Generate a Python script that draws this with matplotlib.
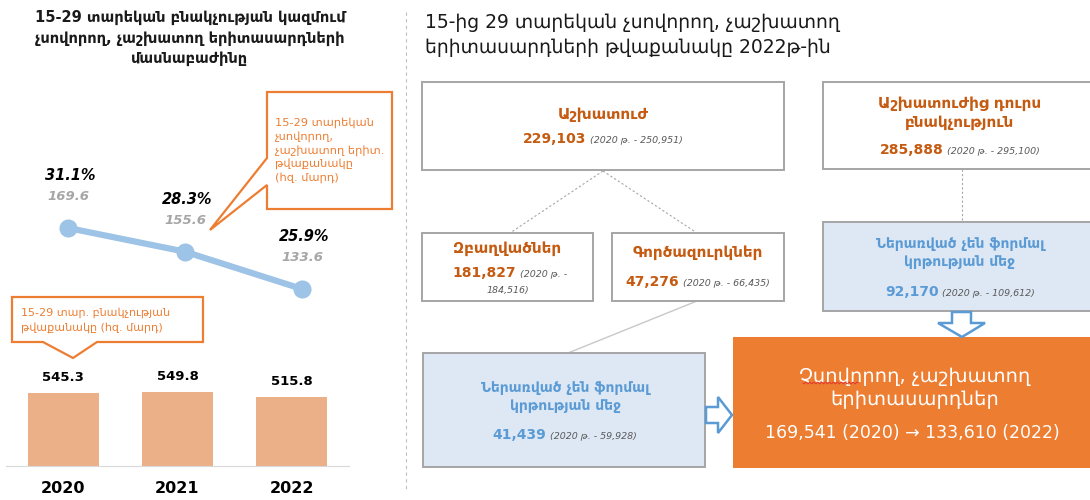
import matplotlib
matplotlib.use("Agg")
import matplotlib.pyplot as plt
from matplotlib.patches import Polygon, Rectangle
import numpy as np

plt.rcParams['font.family'] = ['DejaVu Sans']

# ---- data ----
years = ['2020', '2021', '2022']
population = [545.3, 549.8, 515.8]          # 15-29 population, thousand
neet_count = [169.6, 155.6, 133.6]          # NEET youth, thousand
neet_share = [31.1, 28.3, 25.9]             # NEET share, %

labour_force = (229103, 250951)             # (2022, 2020)
employed = (181827, 184516)
unemployed = (47276, 66435)
inactive = (285888, 295100)
unemp_no_edu = (41439, 59928)
inact_no_edu = (92170, 109612)
neet_total = (169541, 133610)               # (2020, 2022)

ORANGE = '#ed7d31'
ORANGE_TXT = '#c55a11'
BLUE = '#5b9bd5'
BLUE_FILL = '#dde8f4'
GREY_BORDER = '#a5a5a5'
GREY_TXT = '#595959'
W, H = 1090, 500

fig = plt.figure(figsize=(W / 100, H / 100), dpi=100)
ax = fig.add_axes([0, 0, 1, 1])
ax.set_xlim(0, W)
ax.set_ylim(H, 0)
ax.axis('off')


def px_axes(x0, y0, x1, y1):
    # axes placed by pixel box (top-left origin)
    a = fig.add_axes([x0 / W, (H - y1) / H, (x1 - x0) / W, (y1 - y0) / H])
    a.set_facecolor('none')
    return a


def box(x0, y0, x1, y1, fc='white', ec=GREY_BORDER, lw=1.4):
    ax.add_patch(Rectangle((x0, y0), x1 - x0, y1 - y0, facecolor=fc,
                           edgecolor=ec, lw=lw, zorder=2))


def pair(x, y, a, b, color, size_a=10, size_b=6.8, gap=4):
    r = fig.canvas.get_renderer()
    t1 = ax.text(0, y, a, fontsize=size_a, fontweight='bold', color=color,
                 ha='left', va='center', zorder=5)
    t2 = ax.text(0, y + 1, b, fontsize=size_b, style='italic', color=GREY_TXT,
                 ha='left', va='center', zorder=5)
    w1 = t1.get_window_extent(r).width
    w2 = t2.get_window_extent(r).width
    start = x - (w1 + gap + w2) / 2
    t1.set_x(start)
    t2.set_x(start + w1 + gap)


def fmt(v):
    return f"{v:,}"


# ---- left panel ----
ax.text(190, 38, "15-29 տարեկան բնակչության կազմում\nչսովորող, չաշխատող երիտասարդների\nմասնաբաժինը",
        ha='center', va='center', fontsize=10.5, fontweight='bold', linespacing=1.45, color='#1a1a1a')

ax.plot([406, 406], [12, 492], color='#bfbfbf', lw=0.8, ls=(0, (3, 3)))

# bars
bax = px_axes(6, 346, 349, 466)
xs = np.arange(len(years))
bax.bar(xs, population, width=0.62, color='#ebb088')
bax.set_xlim(-0.5, 2.5)
bax.set_ylim(0, 891.6)
for s in ['top', 'left', 'right']:
    bax.spines[s].set_visible(False)
bax.spines['bottom'].set_color('#d9d9d9')
bax.set_yticks([])
bax.set_xticks(xs)
bax.set_xticklabels(years, fontsize=11.5, fontweight='bold')
bax.tick_params(axis='x', length=0, pad=11)
for x, v in zip(xs, population):
    bax.annotate(f"{v}", (x, v), xytext=(0, 11), textcoords='offset points',
                 ha='center', va='center', fontsize=9.5, fontweight='bold')

# line
lax = px_axes(9.5, 170, 360.5, 300)
lax.plot(xs, neet_count, color='#9dc3e6', lw=4.5, marker='o', ms=12,
         markerfacecolor='#9dc3e6', markeredgecolor='#9dc3e6', solid_capstyle='round')
lax.set_xlim(-0.5, 2.5)
lax.set_ylim(127.1, 203.8)
lax.axis('off')
for x, v, p in zip(xs, neet_count, neet_share):
    lax.annotate(f"{p}%", (x, v), xytext=(1.5, 37.5), textcoords='offset points',
                 ha='center', va='center', fontsize=10.5, fontweight='bold', style='italic')
    lax.annotate(f"{v}", (x, v), xytext=(0, 22.5), textcoords='offset points',
                 ha='center', va='center', fontsize=9.5, fontweight='bold', style='italic',
                 color='#a6a6a6')

# callouts
c1 = [(267, 92), (392, 92), (392, 209), (267, 209), (267, 185), (210, 230), (267, 158)]
ax.add_patch(Polygon(c1, closed=True, facecolor='white', edgecolor=ORANGE, lw=1.6, zorder=3))
ax.text(275, 150, "15-29 տարեկան\nչսովորող,\nչաշխատող երիտ.\nթվաքանակը\n(հզ. մարդ)",
        ha='left', va='center', fontsize=8.2, color=ORANGE, linespacing=1.35, zorder=4)

c2 = [(12, 297), (203, 297), (203, 342), (97, 342), (73, 358), (43, 342), (12, 342)]
ax.add_patch(Polygon(c2, closed=True, facecolor='white', edgecolor=ORANGE, lw=1.6, zorder=3))
ax.text(21, 320, "15-29 տար. բնակչության\nթվաքանակը (հզ. մարդ)",
        ha='left', va='center', fontsize=8.0, color=ORANGE, linespacing=1.4, zorder=4)

# ---- right panel ----
ax.text(425, 35, "15-ից 29 տարեկան չսովորող, չաշխատող\nերիտասարդների թվաքանակը 2022թ-ին",
        ha='left', va='center', fontsize=13.5, linespacing=1.45, color='#1a1a1a')

# connectors
dot = dict(color='#a6a6a6', lw=0.8, ls=(0, (2, 2)), zorder=1)
ax.plot([603, 510], [171, 233], **dot)
ax.plot([603, 697], [171, 233], **dot)
ax.plot([962, 962], [169, 222], **dot)
ax.plot([697, 568], [301, 353], color='#c8c8c8', lw=1, zorder=1)

# labour force
box(422, 82, 784, 170)
ax.text(603, 115, "Աշխատուժ", ha='center', va='center', fontsize=11,
        fontweight='bold', color=ORANGE_TXT, zorder=5)
pair(603, 139, fmt(labour_force[0]), f"(2020 թ. - {fmt(labour_force[1])})", ORANGE_TXT)

# employed
box(422, 233, 593, 301)
ax.text(507, 248, "Զբաղվածներ", ha='center', va='center', fontsize=11,
        fontweight='bold', color=ORANGE_TXT, zorder=5)
pair(510, 273, fmt(employed[0]), "(2020 թ. -", ORANGE_TXT)
ax.text(508, 290, f"{fmt(employed[1])})", ha='center', va='center', fontsize=6.8,
        style='italic', color=GREY_TXT, zorder=5)

# unemployed
box(612, 233, 784, 301)
ax.text(698, 253, "Գործազուրկներ", ha='center', va='center', fontsize=11,
        fontweight='bold', color=ORANGE_TXT, zorder=5)
pair(698, 282, fmt(unemployed[0]), f"(2020 թ. - {fmt(unemployed[1])})", ORANGE_TXT)

# inactive
box(823, 82, 1095, 169)
ax.text(960, 113, "Աշխատուժից դուրս\nբնակչություն", ha='center', va='center',
        fontsize=11, fontweight='bold', color=ORANGE_TXT, linespacing=1.35, zorder=5)
pair(960, 150, fmt(inactive[0]), f"(2020 թ. - {fmt(inactive[1])})", ORANGE_TXT)

# inactive not in education
box(823, 222, 1095, 311, fc=BLUE_FILL)
ax.text(960, 253, "Ներառված չեն ֆորմալ\nկրթության մեջ", ha='center', va='center',
        fontsize=10, fontweight='bold', color=BLUE, linespacing=1.4, zorder=5)
pair(960, 292, fmt(inact_no_edu[0]), f"(2020 թ. - {fmt(inact_no_edu[1])})", BLUE)

# unemployed not in education
box(423, 353, 705, 467, fc=BLUE_FILL)
ax.text(565, 397, "Ներառված չեն ֆորմալ\nկրթության մեջ", ha='center', va='center',
        fontsize=10, fontweight='bold', color=BLUE, linespacing=1.4, zorder=5)
pair(565, 435, fmt(unemp_no_edu[0]), f"(2020 թ. - {fmt(unemp_no_edu[1])})", BLUE)

# hollow arrows
down = [(952, 312), (971, 312), (971, 323), (985, 323), (962, 337), (938, 323), (952, 323)]
ax.add_patch(Polygon(down, closed=True, facecolor='white', edgecolor=BLUE, lw=1.8, zorder=4))
right = [(706, 407), (718, 407), (718, 397), (732, 415), (718, 433), (718, 423), (706, 423)]
ax.add_patch(Polygon(right, closed=True, facecolor='white', edgecolor=BLUE, lw=1.8, zorder=4))

# NEET total
ax.add_patch(Rectangle((733, 337), 362, 131, facecolor=ORANGE, edgecolor='none', zorder=2))
ax.text(915, 388, "Չսովորող, չաշխատող\nերիտասարդներ", ha='center', va='center',
        fontsize=14, color='white', linespacing=1.3, zorder=5)
sq = np.linspace(803, 858, 60)
ax.plot(sq, 383 + 1.0 * np.sin((sq - 803) * 1.6), color='#e03030', lw=0.6, zorder=6)
ax.text(912, 433, f"{fmt(neet_total[0])} (2020) → {fmt(neet_total[1])} (2022)",
        ha='center', va='center', fontsize=12.5, color='white', zorder=5)

fig.savefig('out.png', dpi=100)
